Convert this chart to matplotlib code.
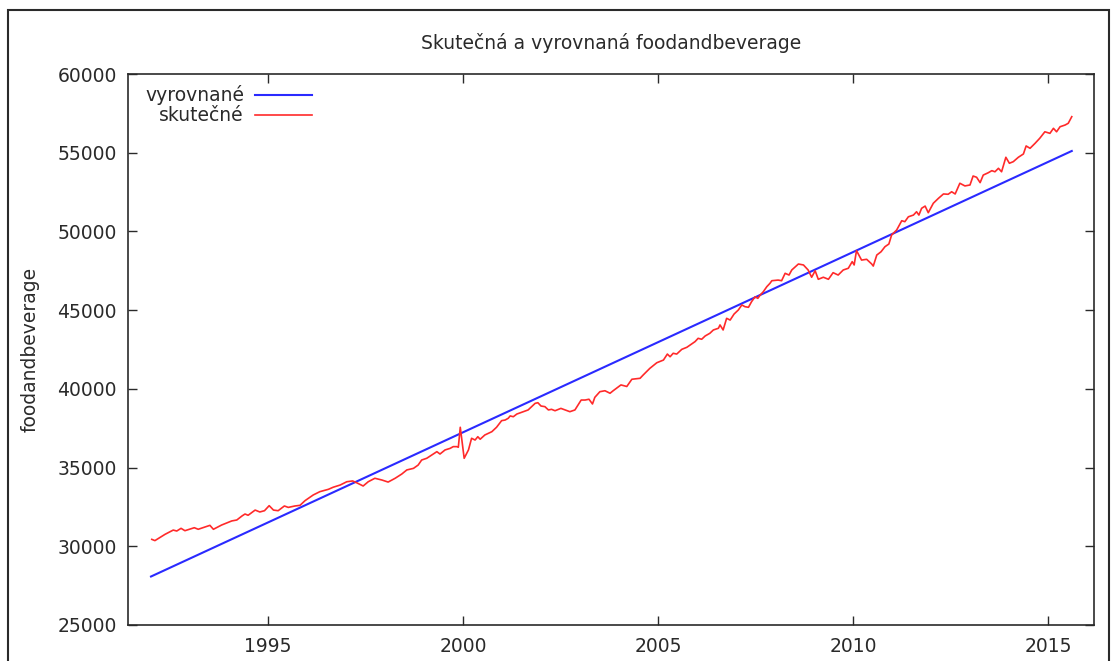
import matplotlib
matplotlib.use("Agg")
import matplotlib.pyplot as plt
from matplotlib.patches import Rectangle

# ---- data ----
actual_years = [
    1992.02, 1992.10, 1992.36, 1992.57, 1992.66, 1992.77, 1992.87, 1993.11, 1993.21, 1993.51,
    1993.60, 1993.81, 1994.07, 1994.20, 1994.33, 1994.41, 1994.49, 1994.67, 1994.79, 1994.91,
    1995.03, 1995.14, 1995.26, 1995.42, 1995.52, 1995.69, 1995.82, 1995.95, 1996.16, 1996.33,
    1996.55, 1996.67, 1996.85, 1997.02, 1997.17, 1997.27, 1997.44, 1997.57, 1997.74, 1997.92,
    1998.08, 1998.26, 1998.43, 1998.56, 1998.73, 1998.85, 1998.94, 1999.07, 1999.20, 1999.33,
    1999.41, 1999.54, 1999.67, 1999.75, 1999.84, 1999.88, 1999.93, 2000.03, 2000.14, 2000.22,
    2000.31, 2000.38, 2000.44, 2000.56, 2000.74, 2000.86, 2000.99, 2001.08, 2001.16, 2001.21,
    2001.29, 2001.38, 2001.55, 2001.67, 2001.85, 2001.92, 2002.00, 2002.10, 2002.19, 2002.27,
    2002.36, 2002.51, 2002.62, 2002.74, 2002.87, 2003.03, 2003.13, 2003.23, 2003.32, 2003.38,
    2003.51, 2003.64, 2003.77, 2003.85, 2004.05, 2004.20, 2004.33, 2004.54, 2004.62, 2004.79,
    2004.97, 2005.14, 2005.24, 2005.31, 2005.39, 2005.48, 2005.61, 2005.74, 2005.86, 2005.95,
    2006.03, 2006.12, 2006.21, 2006.33, 2006.42, 2006.55, 2006.59, 2006.67, 2006.76, 2006.85,
    2006.95, 2007.06, 2007.15, 2007.23, 2007.32, 2007.40, 2007.49, 2007.56, 2007.62, 2007.70,
    2007.79, 2007.87, 2007.92, 2008.08, 2008.17, 2008.26, 2008.36, 2008.43, 2008.60, 2008.73,
    2008.85, 2008.94, 2009.03, 2009.11, 2009.24, 2009.37, 2009.49, 2009.62, 2009.75, 2009.88,
    2009.98, 2010.03, 2010.09, 2010.22, 2010.35, 2010.48, 2010.52, 2010.61, 2010.72, 2010.82,
    2010.92, 2010.99, 2011.12, 2011.25, 2011.33, 2011.42, 2011.55, 2011.63, 2011.69, 2011.76,
    2011.85, 2011.93, 2012.06, 2012.19, 2012.32, 2012.44, 2012.53, 2012.62, 2012.74, 2012.87,
    2013.00, 2013.08, 2013.17, 2013.26, 2013.34, 2013.47, 2013.56, 2013.64, 2013.73, 2013.81,
    2013.92, 2014.01, 2014.11, 2014.24, 2014.37, 2014.44, 2014.54, 2014.67, 2014.79, 2014.92,
    2015.05, 2015.14, 2015.22, 2015.31, 2015.44, 2015.52, 2015.61,
]
actual_values = [
    30440, 30360, 30760, 31030, 30970, 31140, 30990, 31180, 31080, 31330,
    31080, 31350, 31610, 31670, 31920, 32050, 31970, 32300, 32180, 32260,
    32580, 32300, 32260, 32560, 32470, 32560, 32600, 32900, 33260, 33470,
    33620, 33750, 33890, 34100, 34150, 34040, 33830, 34100, 34320, 34210,
    34080, 34320, 34590, 34850, 34950, 35160, 35480, 35590, 35800, 36010,
    35860, 36120, 36220, 36330, 36330, 36290, 37560, 35590, 36120, 36860,
    36750, 36960, 36800, 37070, 37280, 37560, 37980, 38020, 38130, 38280,
    38230, 38400, 38550, 38660, 39080, 39120, 38910, 38870, 38660, 38700,
    38610, 38760, 38660, 38550, 38660, 39290, 39290, 39340, 39040, 39460,
    39820, 39880, 39720, 39880, 40250, 40150, 40610, 40670, 40880, 41300,
    41660, 41830, 42210, 42040, 42260, 42210, 42510, 42640, 42850, 43000,
    43210, 43150, 43360, 43530, 43740, 43850, 44060, 43740, 44480, 44370,
    44750, 45010, 45330, 45220, 45180, 45540, 45850, 45750, 45960, 46170,
    46490, 46700, 46870, 46910, 46870, 47340, 47230, 47550, 47930, 47870,
    47550, 47090, 47500, 46960, 47090, 46960, 47380, 47230, 47550, 47660,
    48080, 47870, 48780, 48180, 48230, 47930, 47800, 48500, 48710, 49030,
    49200, 49770, 50090, 50680, 50620, 50930, 51040, 51250, 51040, 51470,
    51610, 51190, 51790, 52100, 52380, 52360, 52520, 52380, 53060, 52890,
    52950, 53520, 53440, 53100, 53580, 53730, 53860, 53790, 54010, 53790,
    54710, 54330, 54430, 54710, 54920, 55430, 55280, 55600, 55920, 56330,
    56230, 56550, 56330, 56650, 56760, 56870, 57290,
]
fit_years = [1992.0, 2015.61]
fit_values = [28080, 55110]

x_ticks = [1995, 2000, 2005, 2010, 2015]
y_ticks = [25000, 30000, 35000, 40000, 45000, 50000, 55000, 60000]

title = "Skutečná a vyrovnaná foodandbeverage"
ylabel = "foodandbeverage"
label_fit = "vyrovnané"
label_actual = "skutečné"

# ---- figure ----
W, H = 1118, 661
FS = 13.5
TXT = '#2a2a2a'
fig = plt.figure(figsize=(W / 100, H / 100), dpi=100)
plt.rcParams['font.family'] = ['DejaVu Sans']

left, right, top, bottom = 128, 1094, 74, 625
ax = fig.add_axes([left / W, 1 - bottom / H, (right - left) / W, (bottom - top) / H])

ax.plot(fit_years, fit_values, color='#2a2aff', lw=1.5, label=label_fit)
ax.plot(actual_years, actual_values, color='#ff2a2a', lw=1.2, label=label_actual)

ax.set_xlim(1991.41, 2016.18)
ax.set_ylim(25000, 60000)
ax.set_xticks(x_ticks)
ax.set_yticks(y_ticks)
ax.tick_params(direction='in', length=6.5, width=1, top=True, right=True,
               labelsize=FS, colors=TXT, pad=8)
ax.tick_params(axis='x', pad=9)
for s in ax.spines.values():
    s.set_linewidth(1.2)
    s.set_color(TXT)

ax.set_ylabel(ylabel, fontsize=FS, color=TXT)
ax.yaxis.set_label_coords(-0.092, 0.5)
fig.text(611 / W, 1 - 43 / H, title, ha='center', va='center', fontsize=FS, color=TXT)

leg = ax.legend(loc='upper left', bbox_to_anchor=(0.006, 1.0), frameon=False,
                markerfirst=False, fontsize=FS, handlelength=3.0, handletextpad=0.6,
                labelspacing=0.05, borderaxespad=0.2)
for t in leg.get_texts():
    t.set_color(TXT)

# outer frame
fig.patches.append(Rectangle((8 / W, -0.1), (1109 - 8) / W, 1.1 - 10 / H,
                             transform=fig.transFigure, fill=False,
                             edgecolor=TXT, lw=1.5))

fig.savefig('out.png', dpi=100)
